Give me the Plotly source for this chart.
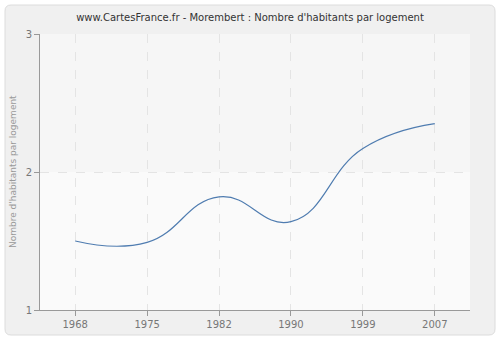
import plotly.graph_objects as go

years = ["1968", "1975", "1982", "1990", "1999", "2007"]
values = [1.50, 1.49, 1.82, 1.64, 2.17, 2.35]
y_ticks = [1, 2, 3]

W, H = 500, 340
L, R, T, B = 40, 30, 34, 30
pw, ph = W - L - R, H - T - B

def px(x):
    return (x - L) / pw

def py(y):
    return (H - B - y) / ph

def rounded_rect(x0, y0, x1, y1, r):
    pts = [
        f"M {px(x0 + r)},{py(y0)}",
        f"L {px(x1 - r)},{py(y0)}",
        f"Q {px(x1)},{py(y0)} {px(x1)},{py(y0 + r)}",
        f"L {px(x1)},{py(y1 - r)}",
        f"Q {px(x1)},{py(y1)} {px(x1 - r)},{py(y1)}",
        f"L {px(x0 + r)},{py(y1)}",
        f"Q {px(x0)},{py(y1)} {px(x0)},{py(y1 - r)}",
        f"L {px(x0)},{py(y0 + r)}",
        f"Q {px(x0)},{py(y0)} {px(x0 + r)},{py(y0)}",
        "Z",
    ]
    return " ".join(pts)

xi = list(range(len(years)))

fig = go.Figure()
fig.add_trace(go.Scatter(
    x=xi, y=values, mode="lines",
    line=dict(color="#4f7cb0", width=1.2, shape="spline", smoothing=1.3),
    hoverinfo="skip", showlegend=False,
))

fig.add_shape(type="path", xref="paper", yref="paper",
              path=rounded_rect(5, 5, 495, 335, 6),
              fillcolor="#f0f0f0", line=dict(color="#dcdcdc", width=1),
              layer="below")
fig.add_shape(type="rect", xref="paper", yref="paper",
              x0=0, y0=0, x1=1, y1=1,
              fillcolor="#fafafa", line=dict(width=0), layer="below")
fig.add_shape(type="rect", xref="paper", yref="y",
              x0=0, y0=2, x1=1, y1=3,
              fillcolor="#f6f6f6", line=dict(width=0), layer="below")

fig.add_annotation(text="Nombre d'habitants par logement", xref="paper", yref="paper",
                   x=px(13), y=py(172), textangle=-90, showarrow=False,
                   xanchor="center", yanchor="middle",
                   font=dict(family="DejaVu Sans", size=9, color="#999999"))

fig.update_layout(
    width=W, height=H,
    margin=dict(l=L, r=R, t=T, b=B, autoexpand=False),
    paper_bgcolor="#ffffff",
    plot_bgcolor="rgba(0,0,0,0)",
    title=dict(text="www.CartesFrance.fr - Morembert : Nombre d'habitants par logement",
               x=0.5, xanchor="center", y=1 - 17 / H, yanchor="middle",
               font=dict(family="DejaVu Sans", size=10, color="#333333")),
    font=dict(family="DejaVu Sans", size=10, color="#777777"),
    xaxis=dict(
        range=[-0.49, 5.49], tickmode="array", tickvals=xi, ticktext=years,
        showgrid=True, gridcolor="#e4e4e4", griddash="dash", gridwidth=1,
        showline=True, linecolor="#999999", linewidth=1,
        ticks="outside", ticklen=5, tickcolor="#999999",
        zeroline=False, fixedrange=True, automargin=False,
        tickfont=dict(family="DejaVu Sans", size=10, color="#777777"),
    ),
    yaxis=dict(
        range=[1, 3], tickmode="array", tickvals=y_ticks,
        ticktext=[str(v) for v in y_ticks],
        showgrid=True, gridcolor="#e4e4e4", griddash="dash", gridwidth=1,
        showline=True, linecolor="#999999", linewidth=1,
        ticks="outside", ticklen=5, tickcolor="#999999",
        zeroline=False, fixedrange=True, automargin=False,
        tickfont=dict(family="DejaVu Sans", size=10, color="#777777"),
    ),
)

fig.write_html("out.html")
